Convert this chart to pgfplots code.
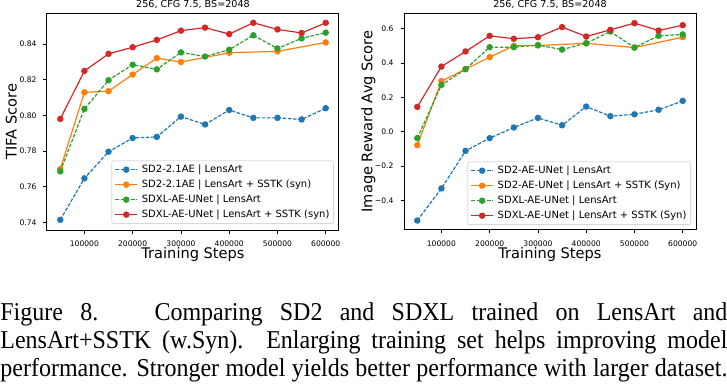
\documentclass[border=0pt]{standalone}
\usepackage{fontspec}
\setmainfont{Liberation Serif}
\newfontfamily\dejavu{DejaVu Sans}
\usepackage{pgfplots}
\pgfplotsset{compat=1.18}
\definecolor{tabblue}{HTML}{1F77B4}
\definecolor{taborange}{HTML}{FF7F0E}
\definecolor{tabgreen}{HTML}{2CA02C}
\definecolor{tabred}{HTML}{D62728}
\pgfplotsset{
  mpl/.style={
    scale only axis, width=146pt, height=108.5pt,
    xmin=22500, xmax=627500,
    scaled x ticks=false, scaled y ticks=false,
    xtick={100000,200000,300000,400000,500000,600000},
    xticklabels={100000,200000,300000,400000,500000,600000},
    tick align=outside, major tick length=1.75pt,
    tick style={black, line width=0.4pt},
    xtick pos=bottom, ytick pos=left,
    axis line style={line width=0.5pt},
    ticklabel style={font=\dejavu\fontsize{3.8}{4.5}\selectfont},
    label style={font=\dejavu\fontsize{7.3}{8}\selectfont},
    every axis title/.style={font=\dejavu\fontsize{4.8}{5.5}\selectfont, at={(0.5,1.026)}, anchor=base},
    xlabel style={at={(axis description cs:0.5,-0.13)}, anchor=base},
    ylabel style={at={(axis description cs:-0.122,0.5)}, anchor=center},
    legend style={font=\dejavu\fontsize{5}{6}\selectfont, draw=black!15, rounded corners=1pt,
      at={(axis description cs:0.983,0.028)}, anchor=south east, row sep=1.6pt, column sep=1.5pt, inner sep=1.5pt,
      nodes={inner sep=0.6pt, text height=3.7pt, text depth=1pt}},
    legend cell align=left,
    legend image code/.code={\draw[mark repeat=2,mark phase=2] plot coordinates {(0cm,0cm) (0.19cm,0cm) (0.38cm,0cm)};},
  },
  sblue/.style={color=tabblue, line width=0.6pt, dash pattern=on 1.8pt off 0.8pt, mark=*, mark size=1.3pt, mark options={solid}},
  sorange/.style={color=taborange, line width=0.6pt, solid, mark=*, mark size=1.3pt},
  sgreen/.style={color=tabgreen, line width=0.6pt, dash pattern=on 1.8pt off 0.8pt, mark=*, mark size=1.3pt, mark options={solid}},
  sred/.style={color=tabred, line width=0.6pt, solid, mark=*, mark size=1.3pt},
}
\begin{document}
\begin{tikzpicture}
\useasboundingbox (0,0) rectangle (363.5pt,-193.5pt);
\begin{axis}[mpl, at={(23.5pt,-6.5pt)}, anchor=north west,
  ymin=0.7358, ymax=0.8575,
  ytick={0.74,0.76,0.78,0.80,0.82,0.84},
  yticklabels={0.74,0.76,0.78,0.80,0.82,0.84},
  title={256, CFG 7.5, BS=2048}, xlabel={Training Steps}, ylabel={TIFA Score}]
\addplot[sblue] coordinates {(50000,0.7415) (100000,0.7648) (150000,0.7797) (200000,0.7874) (250000,0.7880) (300000,0.7994) (350000,0.7950) (400000,0.8031) (450000,0.7987) (500000,0.7987) (550000,0.7978) (600000,0.8041)};
\addlegendentry{SD2-2.1AE | LensArt}
\addplot[sorange] coordinates {(50000,0.7700) (100000,0.8130) (150000,0.8137) (200000,0.8230) (250000,0.8322) (300000,0.8300) (400000,0.8352) (500000,0.8360) (600000,0.8410)};
\addlegendentry{SD2-2.1AE | LensArt + SSTK (syn)}
\addplot[sgreen] coordinates {(50000,0.7687) (100000,0.8037) (150000,0.8198) (200000,0.8285) (250000,0.8259) (300000,0.8354) (350000,0.8331) (400000,0.8369) (450000,0.8450) (500000,0.8376) (550000,0.8433) (600000,0.8465)};
\addlegendentry{SDXL-AE-UNet | LensArt}
\addplot[sred] coordinates {(50000,0.7981) (100000,0.8250) (150000,0.8346) (200000,0.8383) (250000,0.8424) (300000,0.8476) (350000,0.8493) (400000,0.8457) (450000,0.8520) (500000,0.8483) (550000,0.8463) (600000,0.8520)};
\addlegendentry{SDXL-AE-UNet | LensArt + SSTK (syn)}
\end{axis}
\begin{axis}[mpl, at={(202pt,-6.5pt)}, anchor=north west,
  ymin=-0.572, ymax=0.692,
  ytick={-0.4,-0.2,0,0.2,0.4,0.6},
  yticklabels={−0.4,−0.2,0.0,0.2,0.4,0.6},
  legend style={at={(axis description cs:0.983,0.023)}},
  title={256, CFG 7.5, BS=2048}, xlabel={Training Steps}, ylabel={Image Reward Avg Score}]
\addplot[sblue] coordinates {(50000,-0.517) (100000,-0.330) (150000,-0.111) (200000,-0.037) (250000,0.025) (300000,0.081) (350000,0.038) (400000,0.147) (450000,0.091) (500000,0.102) (550000,0.128) (600000,0.180)};
\addlegendentry{SD2-AE-UNet | LensArt}
\addplot[sorange] coordinates {(50000,-0.078) (100000,0.295) (150000,0.365) (200000,0.435) (250000,0.501) (300000,0.503) (400000,0.515) (500000,0.491) (600000,0.551)};
\addlegendentry{SD2-AE-UNet | LensArt + SSTK (Syn)}
\addplot[sgreen] coordinates {(50000,-0.037) (100000,0.273) (150000,0.365) (200000,0.493) (250000,0.493) (300000,0.505) (350000,0.479) (400000,0.516) (450000,0.584) (500000,0.491) (550000,0.559) (600000,0.567)};
\addlegendentry{SDXL-AE-UNet | LensArt}
\addplot[sred] coordinates {(50000,0.145) (100000,0.380) (150000,0.468) (200000,0.559) (250000,0.542) (300000,0.551) (350000,0.610) (400000,0.555) (450000,0.594) (500000,0.633) (550000,0.590) (600000,0.621)};
\addlegendentry{SDXL-AE-UNet | LensArt + SSTK (Syn)}
\end{axis}
\begin{scope}[every node/.style={anchor=base west, inner sep=0pt, font=\fontsize{12}{14}\selectfont}]
\node at (0,-160.3pt) {\scalebox{1}[1.07]{\makebox[363.5pt][s]{Figure 8.\hspace{0.6em} Comparing SD2 and SDXL trained on LensArt and}}};
\node at (0,-174.2pt) {\scalebox{1}[1.07]{\makebox[363.5pt][s]{LensArt+SSTK (w.Syn). Enlarging training set helps improving model}}};
\node at (0,-188pt) {\scalebox{1}[1.07]{\makebox[363.5pt][s]{performance. Stronger model yields better performance with larger dataset.}}};
\end{scope}
\end{tikzpicture}
\end{document}
